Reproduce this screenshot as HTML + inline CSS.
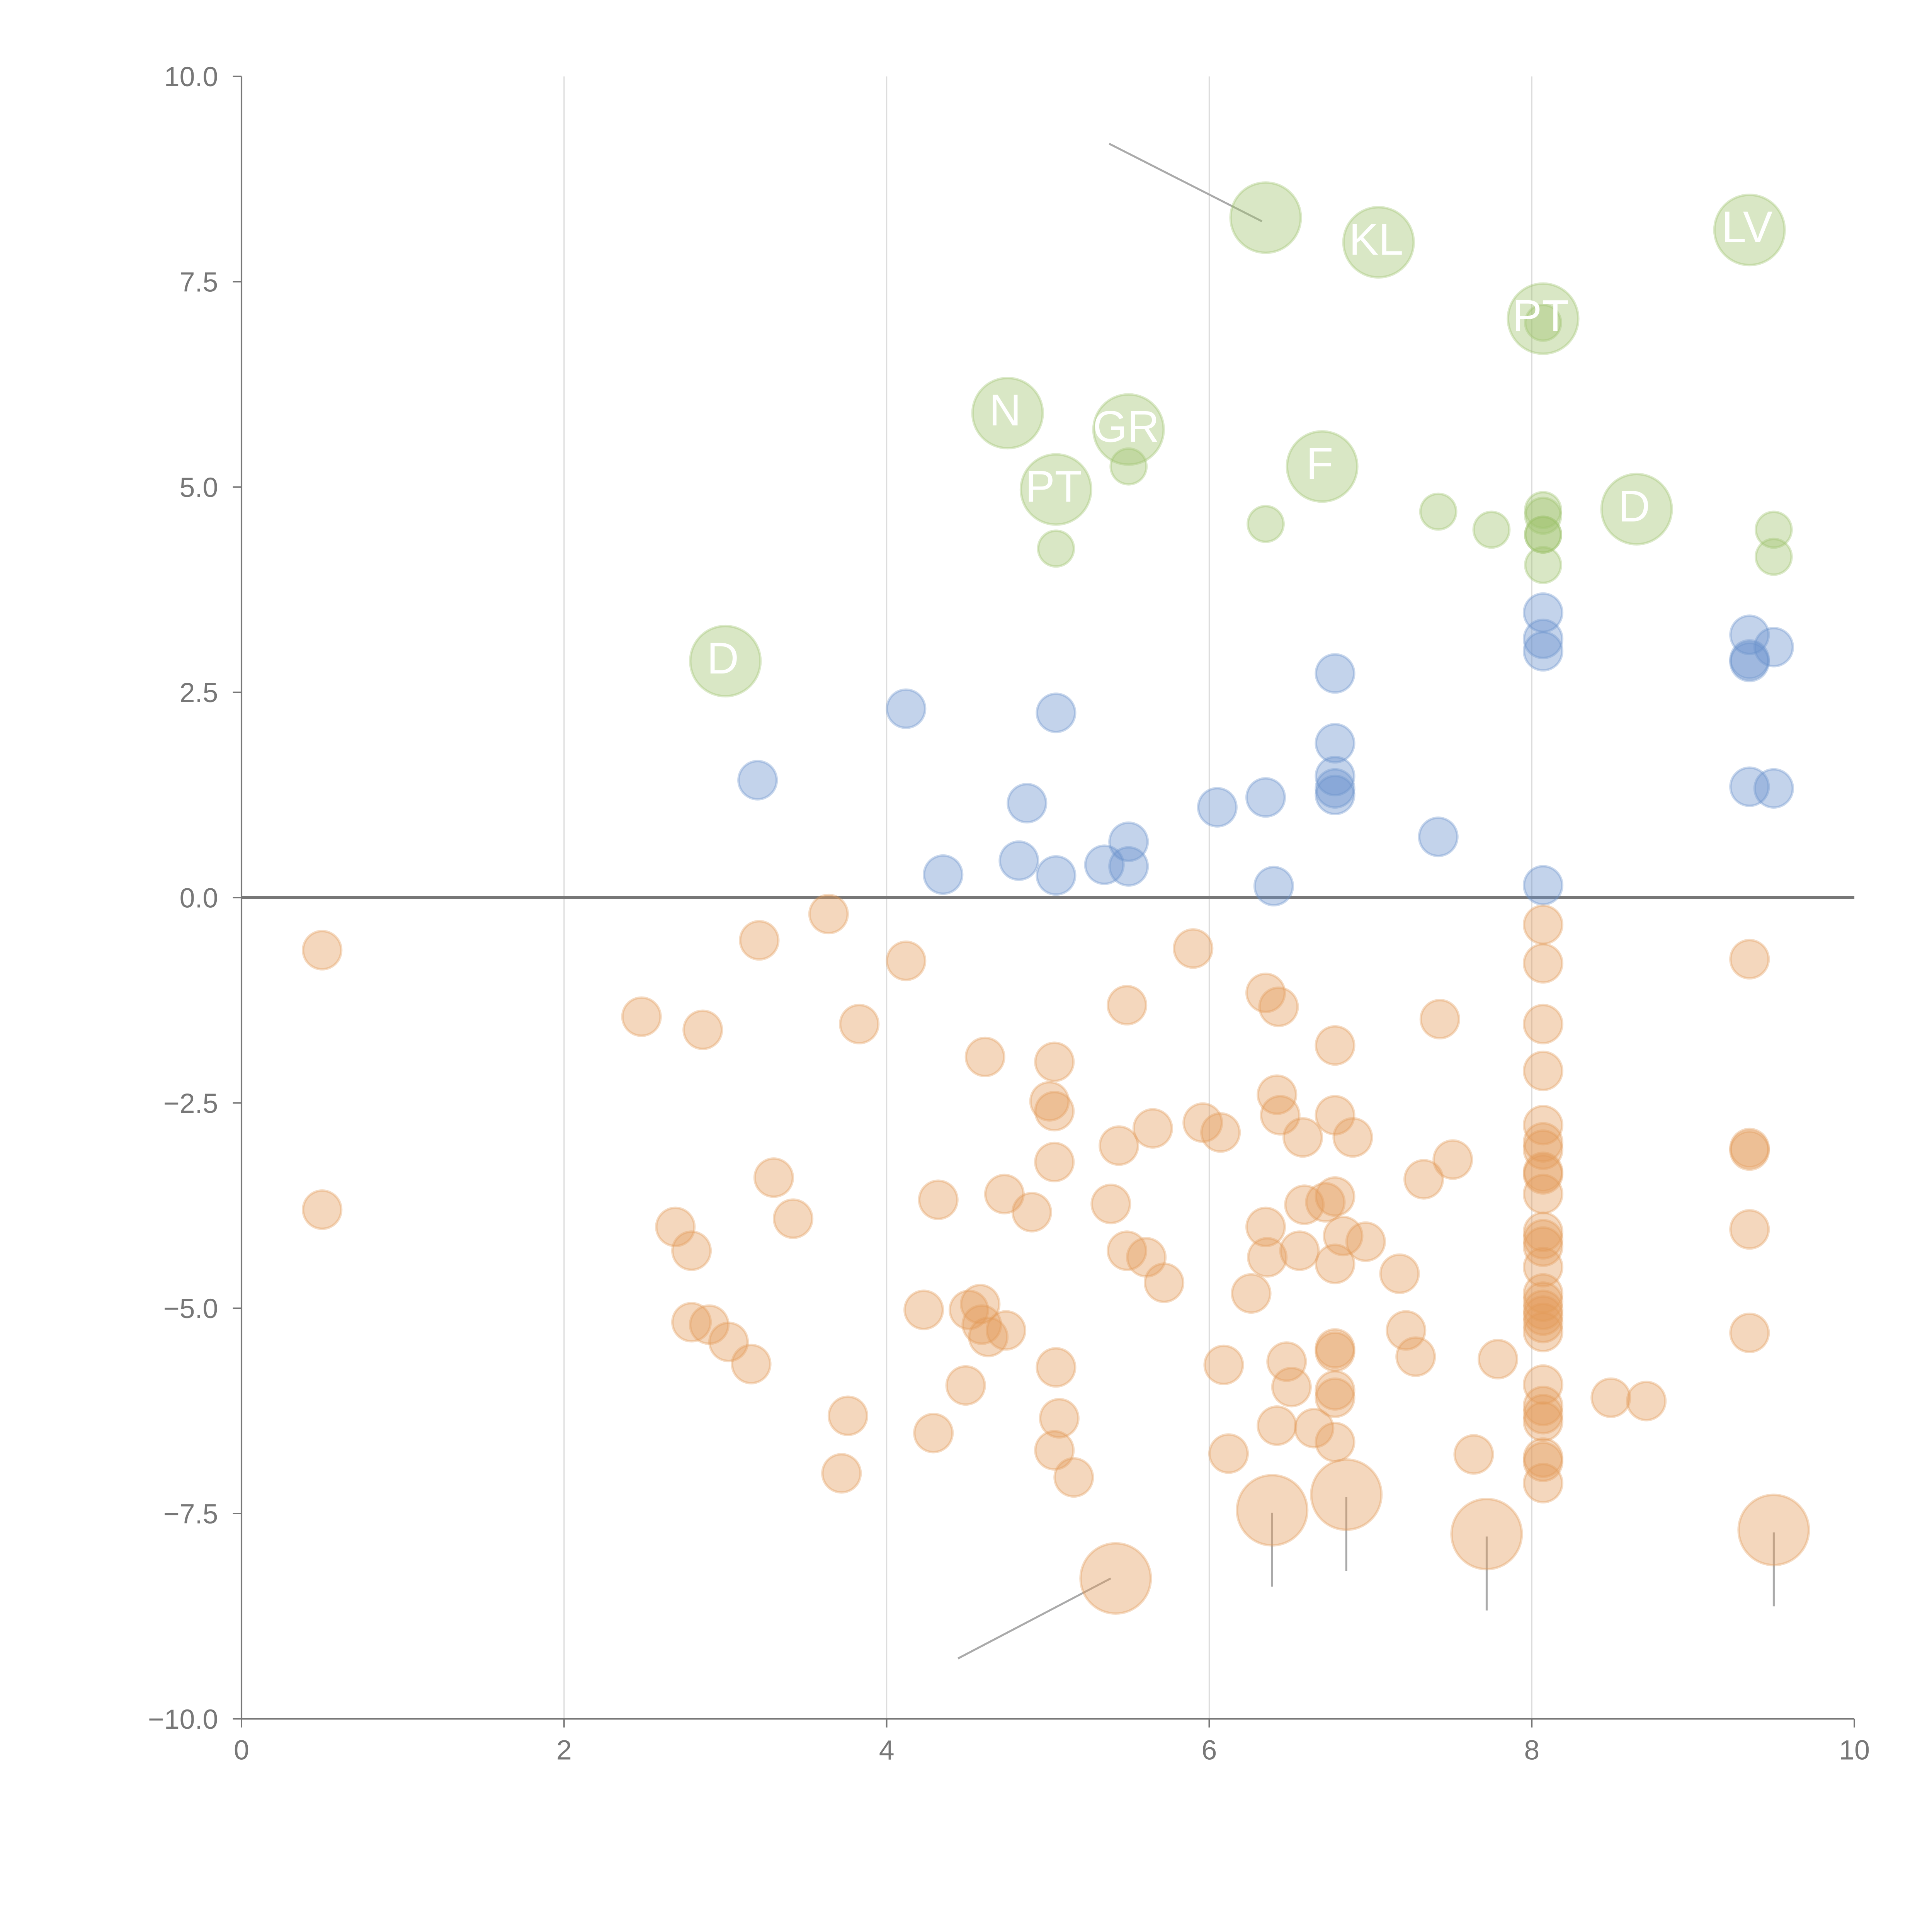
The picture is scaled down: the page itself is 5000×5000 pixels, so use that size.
<!DOCTYPE html>
<html><head><meta charset="utf-8"><style>html,body{margin:0;padding:0;background:#fff}svg{display:block}</style></head>
<body>
<svg id="chart" width="5000" height="5000" viewBox="0 0 1568 1568" xmlns="http://www.w3.org/2000/svg" font-family="Liberation Sans, sans-serif">
<g id="grid"></g>
<g id="axes"></g>
<g id="leaders"></g>
<g id="marks"></g>
<g id="labels"></g>
</svg>
<script>
const xTicks=[0,2,4,6,8,10];
const yTicks=[-10,-7.5,-5,-2.5,0,2.5,5,7.5,10];
const greenSmallX=[5.5,5.05,6.35,7.42,7.75,8.07,8.07,8.07,8.07,8.07,9.5,9.5,8.07];
const greenSmallY=[5.25,4.25,4.55,4.7,4.48,4.72,4.65,4.42,4.42,4.05,4.48,4.15,7.0];
const greenBigX=[3.0,4.75,5.5,5.05,6.35,7.05,6.7,8.07,8.65,9.35];
const greenBigY=[2.88,5.9,5.7,4.97,8.28,7.98,5.25,7.05,4.73,8.13];
const greenBigLabel=["D","N","GR","PT","","KL","F","PT","D","LV"];
const blueX=[3.2,4.12,4.35,4.82,4.87,5.05,5.05,5.35,5.5,5.5,6.05,6.35,6.4,6.78,6.78,6.78,6.78,6.78,7.42,8.07,8.07,8.07,8.07,9.35,9.35,9.35,9.35,9.5,9.5];
const blueY=[1.43,2.3,0.28,0.45,1.15,2.25,0.27,0.4,0.68,0.38,1.1,1.22,0.14,2.73,1.88,1.48,1.33,1.25,0.74,3.47,3.15,3.0,0.15,3.2,2.9,2.87,1.35,3.05,1.33];
const orangeX=[0.5,0.5,2.48,2.86,3.21,3.64,3.83,4.12,3.3,3.42,2.69,2.79,2.79,2.9,3.02,3.16,3.76,3.72,4.32,4.23,4.29,4.49,4.51,4.58,4.59,4.63,4.74,4.61,4.73,4.9,5.04,5.01,5.04,5.04,5.05,5.07,5.04,5.16,5.49,5.44,5.65,5.39,5.49,5.61,5.72,5.9,5.96,6.07,6.35,6.43,6.42,6.44,6.58,6.35,6.36,6.59,6.56,6.26,6.09,6.12,6.42,6.48,6.51,6.65,6.78,6.78,6.89,6.72,6.78,6.83,6.97,6.78,6.78,6.78,6.78,6.78,6.78,7.18,7.22,7.28,7.33,7.43,7.51,7.64,7.79,8.49,8.71,
8.07,8.07,8.07,8.07,8.07,8.07,8.07,8.07,8.07,8.07,8.07,8.07,8.07,8.07,8.07,8.07,8.07,8.07,8.07,8.07,8.07,8.07,8.07,8.07,8.07,8.07,8.07,
9.35,9.35,9.35,9.35,9.35];
const orangeY=[-0.64,-3.8,-1.45,-1.61,-0.52,-0.2,-1.54,-0.77,-3.41,-3.91,-4.01,-4.3,-5.17,-5.2,-5.41,-5.68,-6.31,-7.01,-3.68,-5.02,-6.52,-5.94,-5.02,-4.95,-5.2,-5.35,-5.27,-1.94,-3.61,-3.83,-2.0,-2.48,-2.6,-3.22,-5.72,-6.34,-6.73,-7.06,-1.31,-3.02,-2.81,-3.73,-4.3,-4.38,-4.69,-0.62,-2.74,-2.86,-1.16,-1.33,-2.4,-2.65,-2.92,-4.01,-4.38,-3.74,-4.3,-4.82,-5.69,-6.77,-6.43,-5.65,-5.96,-6.46,-1.8,-2.65,-2.92,-3.71,-3.64,-4.12,-4.19,-4.46,-5.49,-5.53,-6.0,-6.09,-6.63,-4.58,-5.27,-5.59,-3.43,-1.48,-3.19,-6.78,-5.62,-6.09,-6.13,
-0.33,-0.8,-1.54,-2.11,-2.77,-2.98,-3.07,-3.34,-3.37,-3.61,-4.07,-4.16,-4.25,-4.5,-4.82,-4.92,-5.02,-5.09,-5.18,-5.29,-5.93,-6.19,-6.29,-6.38,-6.82,-6.87,-7.13,
-0.75,-3.05,-3.08,-4.04,-5.3];
const orangeBigX=[5.42,6.39,6.85,7.72,9.5];
const orangeBigY=[-8.29,-7.46,-7.27,-7.75,-7.7];

const NS="http://www.w3.org/2000/svg";
const X0=196,X1=1505,Y0=1395,Y1=62;
function sx(v){return X0+(v-0)/(10-0)*(X1-X0);}
function sy(v){return Y0-(v+10)/20*(Y0-Y1);}
function mk(parent,tag,attrs){const e=document.createElementNS(NS,tag);for(const k in attrs)e.setAttribute(k,attrs[k]);parent.appendChild(e);return e;}
const grid=document.getElementById('grid'),axes=document.getElementById('axes'),marks=document.getElementById('marks'),labels=document.getElementById('labels'),leaders=document.getElementById('leaders');

xTicks.forEach(t=>{
  if(t>0&&t<10){const g=mk(grid,'line',{x1:sx(t),x2:sx(t),y1:Y1,y2:Y0,stroke:'#dddddd','stroke-width':1});
    
    }
  const tk=mk(axes,'line',{x1:sx(t),x2:sx(t),y1:Y0,y2:Y0+7,stroke:'#777','stroke-width':1.2});
  
  
  const tx=mk(axes,'text',{x:sx(t),y:Y0+33,'text-anchor':'middle','font-size':22.5,fill:'#777'});
  tx.textContent=String(t);
  
  
});
yTicks.forEach(t=>{
  const tk=mk(axes,'line',{x1:X0-7,x2:X0,y1:sy(t),y2:sy(t),stroke:'#777','stroke-width':1.2});
  
  
  const tx=mk(axes,'text',{x:X0-19,y:sy(t)+8,'text-anchor':'end','font-size':22.5,fill:'#777'});
  tx.textContent=(t<0?'\u2212':'')+Math.abs(t).toFixed(1);
  
  
});
const ya=mk(axes,'line',{x1:X0,x2:X0,y1:Y1,y2:Y0,stroke:'#777','stroke-width':1.3});


const xa=mk(axes,'line',{x1:X0,x2:X1,y1:Y0,y2:Y0,stroke:'#777','stroke-width':1.3});


const zl=mk(axes,'line',{x1:X0,x2:X1,y1:sy(0),y2:sy(0),stroke:'#777','stroke-width':2.5});



function dots(xs,ys,r,col,name){
  xs.forEach((x,i)=>{
    const c=mk(marks,'circle',{cx:sx(x),cy:sy(ys[i]),r:r,fill:col,'fill-opacity':0.4,stroke:col,'stroke-opacity':0.35,'stroke-width':2});
    
    
  });
}
dots(blueX,blueY,15.5,'#6a92cc','blue-point');
dots(orangeX,orangeY,15.5,'#e39a5a','orange-point');
dots(greenSmallX,greenSmallY,14.5,'#9fc46e','green-point');
dots(greenBigX,greenBigY,28.5,'#9fc46e','green-big-point');
dots(orangeBigX,orangeBigY,28.5,'#e39a5a','orange-big-point');

orangeBigX.forEach((x,i)=>{
  let l;
  if(i===0){l=mk(leaders,'line',{x1:sx(x)-4,y1:sy(orangeBigY[i]),x2:sx(x)-128,y2:sy(orangeBigY[i])+65,stroke:'#aaa','stroke-width':1.6});}
  else{l=mk(leaders,'line',{x1:sx(x),y1:sy(orangeBigY[i])+2,x2:sx(x),y2:sy(orangeBigY[i])+62,stroke:'#aaa','stroke-width':1.6});}
  
  
});
const gl=mk(leaders,'line',{x1:sx(greenBigX[4])-3,y1:sy(greenBigY[4])+3,x2:sx(greenBigX[4])-127,y2:sy(greenBigY[4])-60,stroke:'#aaa','stroke-width':1.6});



greenBigX.forEach((x,i)=>{
  if(!greenBigLabel[i])return;
  const t=mk(labels,'text',{x:sx(x)-2,y:sy(greenBigY[i])+10,'text-anchor':'middle','font-size':36,fill:'#fff'});
  t.textContent=greenBigLabel[i];
  
  
});
</script>
</body></html>
